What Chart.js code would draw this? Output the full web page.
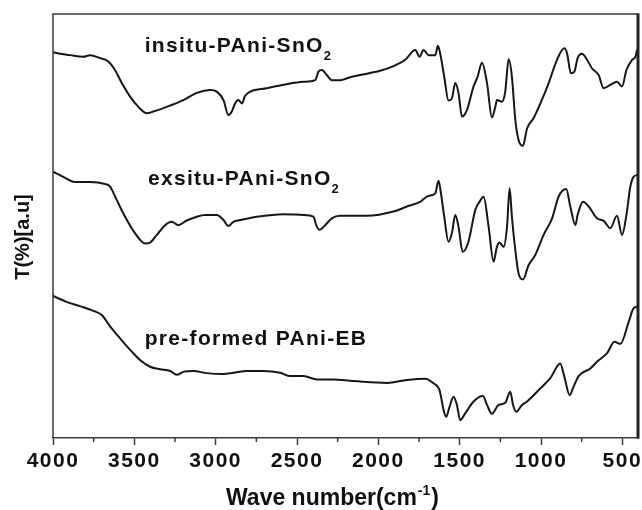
<!DOCTYPE html>
<html><head><meta charset="utf-8">
<script src="https://cdn.jsdelivr.net/npm/chart.js@4"></script>
<style>html,body{margin:0;padding:0;background:#fff;}canvas{display:block}</style>
</head><body>
<canvas id="c" width="642" height="510"></canvas>
<script>
// ---- data (wavenumber in cm-1, offset transmittance in a.u.) ----
const xTickValues = [4000, 3500, 3000, 2500, 2000, 1500, 1000, 500];
const xMinorTickValues = [3750, 3250, 2750, 2250, 1750, 1250, 750];

const seriesNames = ['insitu-PAni-SnO', 'exsitu-PAni-SnO', 'pre-formed PAni-EB'];
const seriesSubs = ['2', '2', ''];

const insituWn = [4000,3895,3814,3772,3711,3660,3619,3577,3526,3475,3424,3383,3301,3199,3116,3034,2993,2952,2922,2901,2881,2860,2839,2819,2788,2686,2583,2460,2388,2368,2347,2317,2286,2235,2173,2112,1989,1907,1835,1773,1747,1722,1692,1650,1634,1620,1595,1569,1548,1527,1507,1486,1455,1415,1390,1363,1332,1302,1281,1271,1240,1220,1199,1179,1158,1138,1111,1086,1046,1004,953,902,857,840,816,795,775,748,717,687,646,615,574,533,502,475,440,420,410];
const insituT = [90.9,90.3,89.9,90.3,89.6,88.8,86.8,83.7,80.5,78.1,76.6,77.0,78.1,79.7,81.4,82.1,81.7,79.7,76.2,77.0,78.9,79.7,78.9,80.7,81.7,82.5,83.3,84.0,84.4,86.4,86.8,85.6,84.4,84.4,85.1,85.6,86.6,87.7,89.2,91.5,89.9,91.5,90.3,90.3,92.5,90.7,85.2,79.6,80.1,83.7,81.3,75.8,77.4,82.9,85.2,88.5,83.7,75.6,78.1,79.7,79.3,81.7,89.3,85.2,75.0,70.3,68.9,73.0,75.4,78.9,83.7,89.2,91.9,90.7,86.0,86.4,89.6,90.6,89.2,87.2,85.6,82.5,83.3,84.0,82.9,86.8,89.2,89.9,91.5];

const exsituWn = [4000,3937,3865,3772,3680,3649,3608,3557,3496,3434,3403,3362,3311,3270,3229,3178,3116,3065,2993,2952,2922,2891,2850,2747,2583,2460,2399,2382,2362,2327,2286,2235,2070,1907,1824,1743,1692,1650,1630,1615,1595,1569,1548,1527,1507,1482,1446,1404,1378,1353,1322,1292,1271,1255,1230,1209,1193,1179,1158,1138,1111,1076,1035,984,932,892,845,820,789,775,742,707,656,615,574,533,502,475,451,431,410];
const exsituT = [62.8,61.6,60.4,60.4,59.9,59.3,56.1,52.2,48.3,45.9,46.1,47.9,50.2,51.0,50.2,51.3,52.2,52.6,52.6,51.4,50.0,51.0,51.4,52.2,52.8,52.6,52.2,50.2,49.1,50.2,51.8,52.4,52.4,53.4,54.6,55.7,57.1,57.7,60.7,57.7,52.2,46.3,48.3,52.6,49.8,43.9,46.3,53.8,55.7,56.9,49.8,41.6,45.1,46.1,45.1,49.8,58.9,52.2,44.3,38.8,37.4,40.8,43.2,47.9,51.8,56.9,58.7,54.6,50.2,52.6,55.7,54.6,51.8,51.2,49.5,52.4,47.9,52.6,59.3,61.6,62.0];

const preformedWn = [4000,3916,3834,3752,3700,3649,3588,3526,3465,3403,3342,3280,3239,3199,3137,3055,2952,2891,2809,2706,2604,2542,2460,2378,2276,2173,2112,1947,1824,1712,1661,1624,1599,1583,1562,1538,1517,1497,1466,1415,1357,1332,1302,1261,1220,1189,1172,1152,1117,1086,1004,943,882,857,824,800,769,697,656,594,549,512,461,434,410];
const preformedT = [33.5,32.1,31.1,30.0,29.0,26.3,23.5,20.8,18.4,16.8,16.2,15.8,14.9,15.6,15.8,15.3,15.1,15.4,15.8,15.8,15.4,14.6,14.6,13.8,13.8,13.5,13.3,13.0,13.7,14.0,12.9,11.3,6.6,5.0,7.4,9.7,7.8,4.2,5.8,8.6,9.9,7.8,5.7,7.8,8.3,10.9,7.8,6.2,7.8,8.6,11.7,14.1,17.6,14.5,10.1,12.1,14.6,16.4,18.0,20.0,22.7,22.2,27.4,30.4,31.0];

// label anchors (data units)
const labelWn = [3430, 3410, 3430];
const labelT = [91.1, 59.7, 21.9];

const xTitle = 'Wave number(cm';
const xTitleSup = '-1';
const yTitle = 'T(%)[a.u]';

// ---- chart ----
const FAM = "'Liberation Sans', Arial, sans-serif";
const INK = '#111';
const AXIS = '#3a3a3a';

function pts(xs, ys) { return xs.map((x, i) => ({x: x, y: ys[i]})); }

const lineStyle = {borderColor: '#161616', borderWidth: 2, pointRadius: 0, fill: false,
  cubicInterpolationMode: 'monotone', borderJoinStyle: 'round', borderCapStyle: 'round'};

const decor = {
  id: 'decor',
  beforeDraw(chart) {
    const ctx = chart.ctx;
    ctx.save();
    ctx.fillStyle = '#fff';
    ctx.fillRect(0, 0, chart.width, chart.height);
    ctx.restore();
    ctx.letterSpacing = '1.5px';
  },
  afterDraw(chart) {
    const ctx = chart.ctx, a = chart.chartArea, xs = chart.scales.x, ys = chart.scales.y;
    ctx.save();
    ctx.letterSpacing = '0px';
    // frame
    ctx.strokeStyle = AXIS; ctx.lineWidth = 1.5;
    ctx.beginPath(); ctx.moveTo(a.left, a.bottom); ctx.lineTo(a.left, a.top); ctx.lineTo(a.right, a.top); ctx.stroke();
    ctx.strokeStyle = '#222'; ctx.lineWidth = 3;
    ctx.beginPath(); ctx.moveTo(a.right + 1, a.top - 0.75); ctx.lineTo(a.right + 1, a.bottom + 0.75); ctx.stroke();
    // minor ticks
    ctx.strokeStyle = AXIS; ctx.lineWidth = 1.5;
    xMinorTickValues.forEach(v => {
      const px = xs.getPixelForValue(v);
      ctx.beginPath(); ctx.moveTo(px, a.bottom); ctx.lineTo(px, a.bottom + 4); ctx.stroke();
    });
    // series labels
    ctx.fillStyle = INK; ctx.textAlign = 'left'; ctx.textBaseline = 'alphabetic';
    seriesNames.forEach((name, i) => {
      const px = xs.getPixelForValue(labelWn[i]);
      const py = ys.getPixelForValue(labelT[i]);
      ctx.font = 'bold 21px ' + FAM; ctx.letterSpacing = '1.3px';
      ctx.fillText(name, px - 1, py);
      if (seriesSubs[i]) {
        const w = ctx.measureText(name).width;
        ctx.font = 'bold 13px ' + FAM; ctx.letterSpacing = '0px';
        ctx.fillText(seriesSubs[i], px - 1 + w, py + 8);
      }
    });
    // x title
    ctx.letterSpacing = '0px';
    ctx.font = 'bold 23px ' + FAM;
    const tx = 226, tb = 505;
    ctx.fillText(xTitle, tx, tb);
    const w1 = ctx.measureText(xTitle).width;
    ctx.font = 'bold 14px ' + FAM;
    ctx.fillText(xTitleSup, tx + w1 + 1, tb - 10);
    const w2 = ctx.measureText(xTitleSup).width;
    ctx.font = 'bold 23px ' + FAM;
    ctx.fillText(')', tx + w1 + w2 + 2, tb);
    // y title
    ctx.save();
    ctx.translate(29, 237);
    ctx.rotate(-Math.PI / 2);
    ctx.font = 'bold 20px ' + FAM;
    ctx.textAlign = 'center';
    ctx.fillText(yTitle, 0, 0);
    ctx.restore();
    ctx.restore();
    ctx.letterSpacing = '0px';
  }
};

new Chart(document.getElementById('c'), {
  type: 'line',
  data: {
    datasets: [
      Object.assign({label: seriesNames[0] + seriesSubs[0], data: pts(insituWn, insituT)}, lineStyle),
      Object.assign({label: seriesNames[1] + seriesSubs[1], data: pts(exsituWn, exsituT)}, lineStyle),
      Object.assign({label: seriesNames[2], data: pts(preformedWn, preformedT)}, lineStyle)
    ]
  },
  options: {
    responsive: false,
    animation: false,
    devicePixelRatio: 1,
    layout: {padding: {top: 14, right: 5, left: 0, bottom: 0}},
    plugins: {legend: {display: false}, tooltip: {enabled: false}},
    scales: {
      x: {
        type: 'linear', min: 410, max: 4000, reverse: true,
        afterBuildTicks: s => { s.ticks = xTickValues.map(v => ({value: v})); },
        afterFit: s => { s.height = 72; s.paddingLeft = 0; s.paddingRight = 0; },
        ticks: {autoSkip: false, maxRotation: 0, minRotation: 0, padding: 4,
                font: {family: FAM, size: 21, weight: 'bold'}, color: INK,
                callback: v => String(v)},
        grid: {drawOnChartArea: false, drawTicks: true, tickLength: 7, tickWidth: 1.5, tickColor: AXIS},
        border: {display: true, color: AXIS, width: 1.5}
      },
      y: {
        min: 0, max: 100,
        afterFit: s => { s.width = 53; },
        ticks: {display: false},
        grid: {display: false},
        border: {display: false}
      }
    }
  },
  plugins: [decor]
});
</script>
</body></html>
